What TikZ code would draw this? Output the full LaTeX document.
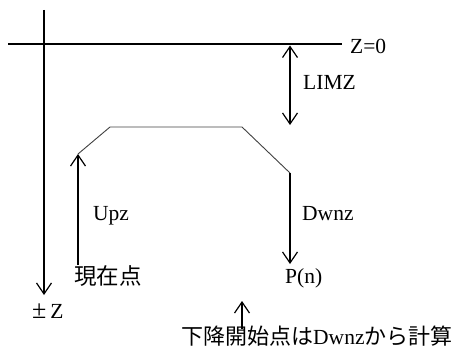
\documentclass[tikz,border=0pt]{standalone}
\usepackage{fontspec}
\setmainfont{Liberation Serif}
\newfontfamily\jp{Noto Sans CJK JP}
\usetikzlibrary{arrows.meta}
\begin{document}
\begin{tikzpicture}[x=1pt,y=-1pt,
  thick line/.style={line width=1.6pt},
  thin path/.style={line width=0.9pt, draw=black!75},
  vhead/.style={-{Straight Barb[length=11pt,width=15pt,line width=1.2pt]}},
  lbl/.style={inner sep=0pt, anchor=base west, font=\fontsize{21.5}{21.5}\selectfont},
  jlbl/.style={inner sep=0pt, anchor=west, font=\fontsize{22.5}{22.5}\selectfont\jp}]
\useasboundingbox (0,0) rectangle (457,350);
% axes
\coordinate (vtop) at (44,10);
\coordinate (vbot) at (44,295);
\coordinate (hl) at (8,44);
\coordinate (hr) at (342,44);
\draw[thick line, vhead] (vtop) -- (vbot);
\draw[thick line] (hl) -- (hr);
% LIMZ dimension
\coordinate (limtop) at (290,45.5);
\coordinate (limbot) at (290,125);
\draw[thick line, {Straight Barb[length=11pt,width=15pt,line width=1.2pt]}-{Straight Barb[length=11pt,width=15pt,line width=1.2pt]}] (limtop) -- (limbot);
% tool path
\coordinate (a1) at (78,154);
\coordinate (a2) at (110,127);
\coordinate (a3) at (242,127);
\coordinate (a4) at (290,173);
\draw[thin path] (a1) -- (a2) -- (a3) -- (a4);
% Upz and Dwnz
\coordinate (upbot) at (78,265);
\coordinate (dwbot) at (290,264);
\draw[thick line, vhead] (upbot) -- (a1);
\draw[thick line, vhead] (a4) -- (dwbot);
% labels
\node[lbl] (z0) at (350,54) {Z=0};
\node[lbl] (limz) at (303,90) {LIMZ};
\node[lbl] (upz) at (93,220) {Upz};
\node[lbl] (dwnz) at (302,220) {Dwnz};
\node[jlbl] (cur) at (74,276) {現在点};
\node[lbl] (pn) at (285,283) {P(n)};
\node[lbl] (pmz) at (31,318) {\kern1pt{\fontsize{26}{26}\selectfont ±}\kern4ptZ};
\node[jlbl, font=\fontsize{22}{22}\selectfont\jp] (note) at (181,336) {下降開始点は{\rmfamily\fontsize{21.5}{21.5}\selectfont Dwnz}から計算};
% note arrow
\coordinate (nb) at (242,329);
\coordinate (nt) at (242,301);
\draw[line width=1.6pt, vhead] (nb) -- (nt);
\end{tikzpicture}
\end{document}
